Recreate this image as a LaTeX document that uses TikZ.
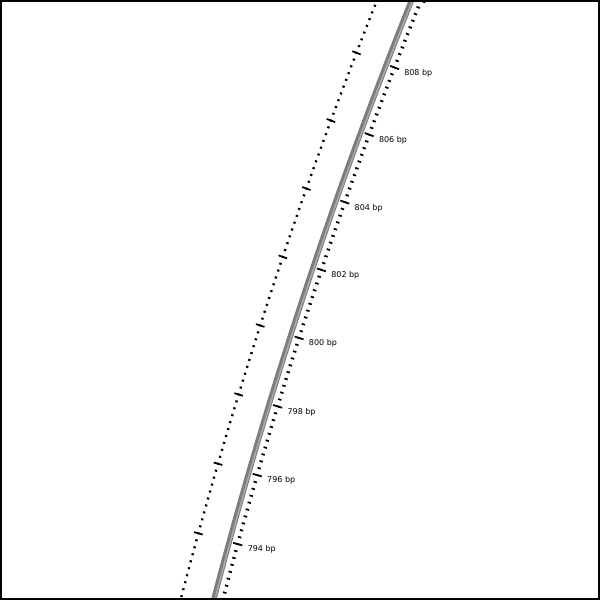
\documentclass[tikz,border=0pt]{standalone}
\usepackage{fontspec}
\setmainfont{DejaVu Sans}
\definecolor{strandGray}{RGB}{125,125,125}
\definecolor{strandLight}{RGB}{170,170,170}

\begin{document}
\begin{tikzpicture}[x=1pt,y=1pt,
    declare function={
      rx(\pos,\off)=290.7+\pos*0.3057+(\pos/100)*(\pos/100)*0.9521+\off*(0.9521-\pos/5000*0.3057);
      ry(\pos,\off)=264.7+\pos*0.9521-(\pos/100)*(\pos/100)*0.3057+\off*(-0.3057-\pos/5000*0.9521);
    },
    minortick/.style={line width=1.7pt},
    majortick/.style={line width=1.7pt},
    rulerdot/.style={line width=2pt},
    rulerdash/.style={line width=1.7pt},
    bplabel/.style={anchor=west, inner sep=0pt, yshift=-2.5pt, font=\fontsize{8}{9}\selectfont}]
      \useasboundingbox (0,0) rectangle (600,600);
      \begin{scope}
      \clip (0,0) rectangle (600,600);

      % the strand, a slightly bent arc
      \draw[strandGray, line width=5.5pt] plot[domain=-300:380, samples=80] ({rx(\x,0)},{ry(\x,0)});
      \draw[strandLight, line width=1.5pt] plot[domain=-300:380, samples=80] ({rx(\x,1)},{ry(\x,1)});

      % small ticks every 0.2 bp, outer scale and inner dotted scale
      \foreach \i in {-45,...,55} {
        \pgfmathsetmacro\sp{\i*7.18}
        \draw[minortick] ({rx(\sp,7)},{ry(\sp,7)}) -- ({rx(\sp,10.5)},{ry(\sp,10.5)});
        \draw[rulerdot] ({rx(\sp,-33.2)},{ry(\sp,-33.2)}) -- ({rx(\sp,-30.8)},{ry(\sp,-30.8)});
      }

      % long ticks every 2 bp
      \foreach \i in {-50,-40,...,60} {
        \pgfmathsetmacro\sp{\i*7.18}
        \draw[majortick] ({rx(\sp,4)},{ry(\sp,4)}) -- ({rx(\sp,13.5)},{ry(\sp,13.5)});
        \draw[rulerdash] ({rx(\sp,-36.5)},{ry(\sp,-36.5)}) -- ({rx(\sp,-27.5)},{ry(\sp,-27.5)});
      }

      % labels
      \foreach \i in {-30,-20,...,40} {
        \pgfmathsetmacro\sp{\i*7.18}
        \pgfmathtruncatemacro\bp{800+\i/5}
        \node[bplabel] (lab\bp) at ({rx(\sp,19)},{ry(\sp,19)}) {\bp\ bp};
      }
      \end{scope}

      % frame
      \draw[line width=2pt] (1,1) rectangle (599,599);
    \end{tikzpicture}
\end{document}
